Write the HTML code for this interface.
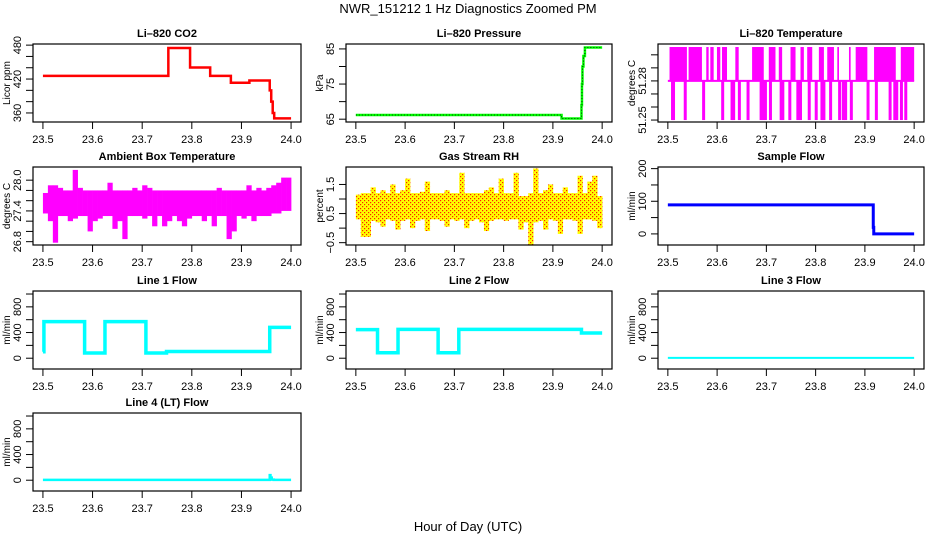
<!DOCTYPE html>
<html><head><meta charset="utf-8"><style>
html,body{margin:0;padding:0;background:#fff;}
svg{display:block;font-family:"Liberation Sans",Arial,sans-serif;}
</style></head><body>
<svg id="chart" width="936" height="540" viewBox="0 0 936 540">
<defs>
<pattern id="rhdots" width="4" height="4" patternUnits="userSpaceOnUse"><rect x="0" y="0" width="1.2" height="1.2" fill="#ff2000"/><rect x="2" y="2" width="1.2" height="1.2" fill="#ff2000"/></pattern>
</defs>
<text x="468" y="13" text-anchor="middle" font-size="13">NWR_151212  1 Hz Diagnostics Zoomed PM</text>
<text x="468" y="531" text-anchor="middle" font-size="13">Hour of Day (UTC)</text>
</svg>
<script>
// ---- data ----
const xTicks = [23.5, 23.6, 23.7, 23.8, 23.9, 24.0];
const xTickLabels = ["23.5", "23.6", "23.7", "23.8", "23.9", "24.0"];

const co2Times = [23.5, 23.7527, 23.7965, 23.837, 23.8787, 23.916, 23.957, 23.960, 23.963, 23.966, 24.0];
const co2Values = [425.5, 475, 440.5, 425.5, 413.5, 417.5, 400, 380, 360, 350.5, 350.5];

const pressTimes = [23.5, 23.9176, 23.958, 23.959, 23.960, 23.962, 23.965, 24.0];
const pressValues = [66.2, 65.2, 69, 75, 80, 83, 85.4, 85.4];

const tempMid = 51.28, tempHigh = 51.306, tempLow = 51.25;
const tempUpStart = [23.5034, 23.5421, 23.578, 23.5862, 23.5997, 23.6099, 23.637, 23.671, 23.7049, 23.7252, 23.749, 23.7693, 23.7829, 23.8066, 23.8236, 23.844, 23.8677, 23.8813, 23.9186, 23.9729];
const tempUpEnd = [23.5387, 23.5692, 23.5828, 23.593, 23.6065, 23.6201, 23.6438, 23.6947, 23.7185, 23.732, 23.7592, 23.7761, 23.7931, 23.8168, 23.8372, 23.8474, 23.8711, 23.905, 23.9627, 24.0];
const tempDownTimes = [23.5095, 23.5115, 23.5353, 23.5726, 23.6113, 23.6303, 23.6336, 23.6452, 23.6628, 23.6893, 23.6934, 23.6981, 23.7083, 23.73, 23.7334, 23.7476, 23.7639, 23.7693, 23.787, 23.8012, 23.8128, 23.8168, 23.8304, 23.8487, 23.8562, 23.8609, 23.8725, 23.9064, 23.9233, 23.9512, 23.9607, 23.9647, 23.9742, 23.983];

const ambHigh = [27.75,27.9,27.9,27.85,27.8,27.8,28.2,27.85,27.8,27.8, 27.8,27.8,27.8,27.95,27.8,27.8,27.8,27.8,27.85,27.8, 27.9,27.85,27.8,27.8,27.8,27.8,27.8,27.8,27.8,27.8, 27.8,27.8,27.8,27.8,27.8,27.85,27.8,27.8,27.8,27.8, 27.8,27.9,27.8,27.85,27.8,27.85,27.9,27.95,28.05,28.05];
const ambLow = [27.35,27.2,26.78,27.3,27.3,27.2,27.25,27.3,27.3,27.0, 27.2,27.25,27.3,27.3,27.05,27.2,26.85,27.3,27.3,27.3, 27.25,27.3,27.1,27.3,27.1,27.2,27.3,27.2,27.1,27.25, 27.3,27.3,27.2,27.3,27.1,27.3,27.3,26.85,27.0,27.3, 27.25,27.3,27.2,27.3,27.3,27.3,27.35,27.35,27.4,27.4];

const rhHigh = [1.15,1.2,1.2,1.4,1.2,1.3,1.2,1.5,1.2,1.3, 1.7,1.2,1.2,1.25,1.6,1.2,1.2,1.2,1.3,1.2, 1.2,1.9,1.2,1.2,1.2,1.2,1.3,1.4,1.2,1.7, 1.2,1.2,1.9,1.1,1.1,1.2,2.05,1.2,1.3,1.5, 1.2,1.2,1.4,1.2,1.2,1.8,1.2,1.6,1.8,1.1];
const rhLow = [0.3,-0.3,-0.3,0.25,0.2,0.05,0.3,0.25,-0.05,0.25, 0.3,0.0,0.25,0.3,-0.1,0.3,0.3,0.25,0.05,0.3, 0.25,0.3,0.0,0.25,0.3,0.2,-0.1,0.25,0.3,0.3, 0.25,0.3,0.3,-0.05,0.2,-0.6,0.2,0.25,-0.05,0.3, 0.25,-0.2,0.3,0.3,0.25,-0.2,0.3,0.3,0.25,0.0];

const sampleTimes = [23.5, 23.917, 23.918, 23.92, 24.0];
const sampleValues = [89, 20, 0, 0, 0];

const line1Times = [23.5, 23.502, 23.584, 23.625, 23.7075, 23.749, 23.957, 24.0];
const line1Values = [100, 570, 82, 570, 82, 104, 480, 480];
const line2Times = [23.5, 23.544, 23.5856, 23.667, 23.709, 23.958, 24.0];
const line2Values = [445, 85, 450, 85, 450, 392, 392];
const line3Times = [23.5, 24.0];
const line3Values = [6, 6];
const line4Times = [23.5, 23.957, 23.9585, 23.961, 23.965, 24.0];
const line4Values = [6, 80, 40, 10, 6, 6];

// ---- layout ----
const NS = "http://www.w3.org/2000/svg";
const svg = document.getElementById("chart");
const colL = [33, 346, 658], colR = [301, 612, 924];
const rowT = [44, 167, 291, 413], boxH = 78;
function mk(tag, attrs, parent) {
  const e = document.createElementNS(NS, tag);
  for (const k in attrs) e.setAttribute(k, attrs[k]);
  (parent || svg).appendChild(e);
  return e;
}
function panel(col, row, name, title, ylab, ylo, yhi, yt, ytl) {
  const g = mk("g", {});
  
  
  const L = colL[col], R = colR[col], T = rowT[row], B = T + boxH;
  const sx = v => L + (v - 23.48) / 0.54 * (R - L);
  const sy = v => B - (v - ylo) / (yhi - ylo) * boxH;
  const t = mk("text", {x: (L + R) / 2, y: T - 7, "text-anchor": "middle", "font-size": 11, "font-weight": "bold"}, g);
  t.textContent = title;
  
  
  const yl = mk("text", {x: 0, y: 0, transform: `translate(${L - 23},${(T + B) / 2}) rotate(-90)`, "text-anchor": "middle", "font-size": 10}, g);
  yl.textContent = ylab;
  
  
  const xa = mk("g", {stroke: "#000", "stroke-width": 1}, g);
  
  
  xTicks.forEach((v, i) => {
    mk("line", {x1: sx(v), x2: sx(v), y1: B, y2: B + 7}, xa);
    const tl = mk("text", {x: sx(v), y: B + 21, "text-anchor": "middle", "font-size": 11, stroke: "none"}, xa);
    tl.textContent = xTickLabels[i];
    
    
  });
  const ya = mk("g", {stroke: "#000", "stroke-width": 1}, g);
  
  
  yt.forEach((v, i) => {
    mk("line", {x1: L - 7, x2: L, y1: sy(v), y2: sy(v)}, ya);
    if (ytl[i]) {
      const tl = mk("text", {x: 0, y: 0, transform: `translate(${L - 12},${sy(v)}) rotate(-90)`, "text-anchor": "middle", "font-size": 11, stroke: "none"}, ya);
      tl.textContent = ytl[i];
      
      
    }
  });
  const plot = mk("g", {}, g);
  const box = mk("rect", {x: L, y: T, width: R - L, height: boxH, fill: "none", stroke: "#000", "stroke-width": 1.2}, g);
  
  
  return {sx, sy, plot};
}
function stepPath(p, times, vals, color, w, name) {
  let d = `M${p.sx(times[0])},${p.sy(vals[0])}`;
  for (let i = 1; i < times.length; i++) d += `H${p.sx(times[i])}V${p.sy(vals[i])}`;
  const e = mk("path", {d, fill: "none", stroke: color, "stroke-width": w}, p.plot);
  
  
  return d;
}
function bands(p, lo, hi, fill, name) {
  const n = lo.length, dt = 0.5 / n;
  for (let i = 0; i < n; i++) {
    const x0 = p.sx(23.5 + i * dt), x1 = p.sx(23.5 + (i + 1) * dt);
    const r = mk("rect", {x: x0, y: p.sy(hi[i]), width: x1 - x0 + 0.3, height: p.sy(lo[i]) - p.sy(hi[i]), fill}, p.plot);
    
    
  }
}

let p = panel(0, 0, "co2-panel", "Li\u2013820 CO2", "Licor ppm", 344, 482, [360,380,400,420,440,460,480], ["360","","","420","","","480"]);
stepPath(p, co2Times, co2Values, "#ff0000", 2.5, "co2-line");
p = panel(1, 0, "pressure-panel", "Li\u2013820 Pressure", "kPa", 64.2, 86.4, [65,70,75,80,85], ["65","","75","","85"]);
stepPath(p, pressTimes, pressValues, "#00ff00", 2.5, "pressure-line");
{ const e = mk("path", {d: p.plot.lastChild.getAttribute("d"), fill: "none", stroke: "#000", "stroke-width": 0.8, "stroke-dasharray": "1 2"}, p.plot);
  
   }
p = panel(2, 0, "licor-temp-panel", "Li\u2013820 Temperature", "degrees C", 51.2485, 51.3083, [51.25,51.26,51.27,51.28,51.29,51.30], ["51.25","","","51.28","",""]);
{ const ml = mk("line", {x1: p.sx(23.5), x2: p.sx(24.0), y1: p.sy(tempMid), y2: p.sy(tempMid), stroke: "#ff00ff", "stroke-width": 2}, p.plot);
  
  
  tempUpStart.forEach((s, i) => {
    const r = mk("rect", {x: p.sx(s), y: p.sy(tempHigh), width: Math.max(1.5, p.sx(tempUpEnd[i]) - p.sx(s)), height: p.sy(tempMid) - p.sy(tempHigh), fill: "#ff00ff"}, p.plot);
    
    
  });
  tempDownTimes.forEach(tm => {
    const r = mk("line", {x1: p.sx(tm), x2: p.sx(tm), y1: p.sy(tempMid), y2: p.sy(tempLow), stroke: "#ff00ff", "stroke-width": 3}, p.plot);
    
    
  }); }
p = panel(0, 1, "ambient-temp-panel", "Ambient Box Temperature", "degrees C", 26.735, 28.257, [26.8,27.0,27.2,27.4,27.6,27.8,28.0], ["26.8","","","27.4","","","28.0"]);
bands(p, ambLow, ambHigh, "#ff00ff", "ambient-band");
p = panel(1, 1, "rh-panel", "Gas Stream RH", "percent", -0.58, 2.10, [-0.5,0,0.5,1.0,1.5], ["\u22120.5","","0.5","","1.5"]);
bands(p, rhLow, rhHigh, "#ffff00", "rh-band");
bands(p, rhLow, rhHigh, "url(#rhdots)", "rh-band-dots");
p = panel(2, 1, "sample-flow-panel", "Sample Flow", "ml/min", -34, 205, [0,50,100,150,200], ["0","","100","","200"]);
stepPath(p, sampleTimes, sampleValues, "#0000ff", 3, "sample-flow-line");
const flowTicks = [0,200,400,600,800,1000], flowLabels = ["0","","400","","800",""];
p = panel(0, 2, "line1-panel", "Line 1 Flow", "ml/min", -168, 1047, flowTicks, flowLabels);
stepPath(p, line1Times, line1Values, "#00ffff", 3.5, "line1-flow");
p = panel(1, 2, "line2-panel", "Line 2 Flow", "ml/min", -168, 1047, flowTicks, flowLabels);
stepPath(p, line2Times, line2Values, "#00ffff", 3.5, "line2-flow");
p = panel(2, 2, "line3-panel", "Line 3 Flow", "ml/min", -168, 1047, flowTicks, flowLabels);
stepPath(p, line3Times, line3Values, "#00ffff", 2, "line3-flow");
p = panel(0, 3, "line4-panel", "Line 4 (LT) Flow", "ml/min", -168, 1047, flowTicks, flowLabels);
stepPath(p, line4Times, line4Values, "#00ffff", 2.5, "line4-flow");
</script>
</body></html>
